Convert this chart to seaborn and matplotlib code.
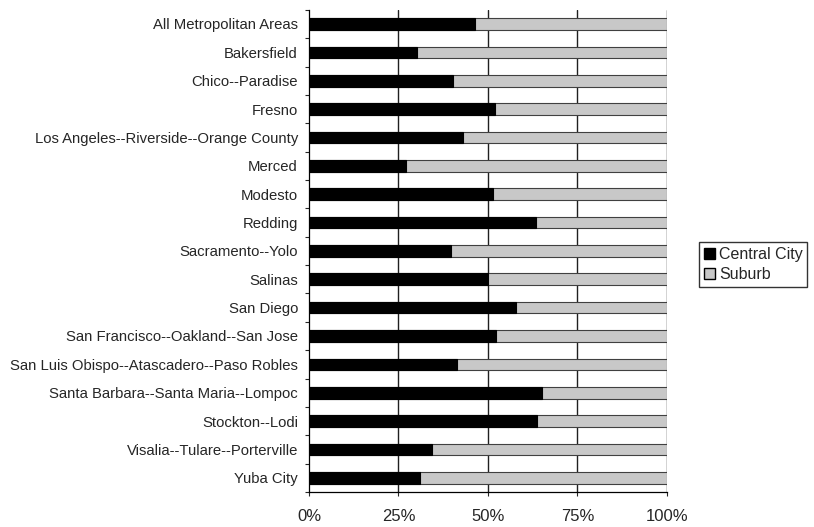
import seaborn as sns
import pandas as pd
import matplotlib.pyplot as plt
from matplotlib.patches import Patch
from matplotlib.ticker import FixedLocator, PercentFormatter

sns.set_style("white")
plt.rcParams['font.family'] = ['Liberation Sans', 'DejaVu Sans']

areas = ["All Metropolitan Areas", "Bakersfield", "Chico--Paradise", "Fresno",
         "Los Angeles--Riverside--Orange County", "Merced", "Modesto", "Redding",
         "Sacramento--Yolo", "Salinas", "San Diego", "San Francisco--Oakland--San Jose",
         "San Luis Obispo--Atascadero--Paso Robles", "Santa Barbara--Santa Maria--Lompoc",
         "Stockton--Lodi", "Visalia--Tulare--Porterville", "Yuba City"]
central_city = [46.5, 30.1, 40.3, 52.0, 43.1, 27.1, 51.3, 63.3, 39.6, 50.1,
                57.8, 52.2, 41.4, 65.2, 63.8, 34.4, 30.9]
suburb = [100 - c for c in central_city]

df = pd.DataFrame({"area": areas, "central": central_city, "suburb": suburb})
df["total"] = df["central"] + df["suburb"]

fig = plt.figure(figsize=(8.14, 5.27), dpi=100)
ax = fig.add_axes([0.3796, 0.0664, 0.4398, 0.915])

# gridlines behind bars
for v in [25, 50, 75, 100]:
    ax.axvline(v, color="#202020", lw=1.0, zorder=0)

sns.barplot(data=df, y="area", x="total", color="#c8c8c8", width=0.41,
            edgecolor="#404040", linewidth=0.8, ax=ax, zorder=2)
sns.barplot(data=df, y="area", x="central", color="black", width=0.41,
            edgecolor="black", linewidth=0.8, ax=ax, zorder=3)

ax.set_xlim(0, 100)
ax.set_ylim(len(areas) - 0.5, -0.5)
ax.set_xlabel("")
ax.set_ylabel("")
ax.xaxis.set_major_locator(FixedLocator([0, 25, 50, 75, 100]))
ax.xaxis.set_major_formatter(PercentFormatter(decimals=0))
ax.tick_params(axis="x", labelsize=12, length=3, direction="out", width=0.8, bottom=True, pad=9)
ax.tick_params(axis="y", which="major", length=0, labelsize=10.7, pad=8)
ax.set_yticks([i - 0.5 for i in range(len(areas) + 1)], minor=True)
ax.tick_params(axis="y", which="minor", length=3, direction="out", width=0.8, left=True)

for s in ["top", "right"]:
    ax.spines[s].set_visible(False)
for s in ["left", "bottom"]:
    ax.spines[s].set_color("black")
    ax.spines[s].set_linewidth(0.9)

handles = [Patch(facecolor="black", edgecolor="black", label="Central City"),
           Patch(facecolor="#c8c8c8", edgecolor="black", label="Suburb")]
fig.legend(handles=handles, loc="upper left", bbox_to_anchor=(0.8587, 0.5408),
           frameon=True, fancybox=False, edgecolor="black", fontsize=11.5,
           handlelength=0.7, handleheight=0.7, handletextpad=0.25,
           borderpad=0.3, labelspacing=0.35, borderaxespad=0)

fig.savefig("out.png", dpi=100)
